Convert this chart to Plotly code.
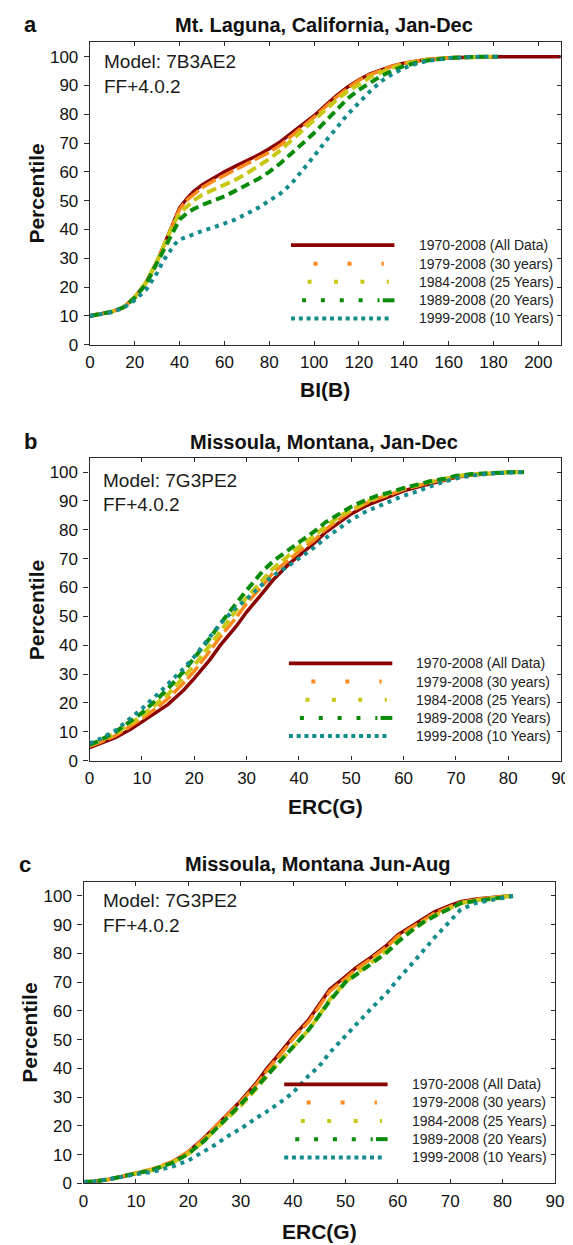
import plotly.graph_objects as go

# ---------------- data ----------------
SERIES_NAMES = ["1970-2008 (All Data)", "1979-2008 (30 years)", "1984-2008 (25 Years)",
                "1989-2008 (20 Years)", "1999-2008 (10 Years)"]

# Panel a: Mt. Laguna, BI(B)
A_X_ALL = [0, 5, 10, 15, 20, 25, 30, 33, 36, 38, 40, 43, 46, 50, 55, 60, 65, 70, 75, 80, 85, 90, 95, 100,
           105, 110, 115, 120, 125, 130, 135, 140, 145, 150, 160, 170, 180, 190, 200, 210]
A_Y_ALL = [10, 10.6, 11.5, 13, 16.5, 21.5, 29, 34.5, 40, 43.5, 47.5, 50.5, 53, 55.5, 57.8, 60, 62, 63.8, 65.8,
           68, 70.5, 73.5, 76.5, 79.5, 83, 86.5, 89.5, 92, 94, 95.5, 96.8, 97.7, 98.4, 99, 99.6, 99.9, 100, 100,
           100, 100]
A_X_SUB = [0, 5, 10, 15, 20, 25, 30, 33, 36, 38, 40, 43, 46, 50, 55, 60, 65, 70, 75, 80, 85, 90, 95, 100,
           105, 110, 115, 120, 125, 130, 135, 140, 145, 150, 160, 170, 182]
A_Y_30 = [10, 10.6, 11.5, 13, 16.5, 21.5, 29, 34.5, 40, 43.5, 47, 50, 52, 54.5, 56.8, 58.8, 60.8, 62.7, 64.7,
          66.8, 69.3, 72.5, 75.8, 79, 82.5, 86, 89, 91.8, 93.8, 95.4, 96.7, 97.7, 98.4, 99, 99.6, 99.9, 100]
A_Y_25 = [10, 10.6, 11.5, 13, 16.5, 21.5, 29, 34.5, 39.5, 43, 45.5, 48, 50, 52, 53.7, 55.3, 57.3, 59.5, 62,
          64.5, 67.5, 71, 74.5, 78, 81.5, 85, 88, 90.5, 92.8, 94.6, 96.2, 97.4, 98.2, 98.9, 99.6, 99.9, 100]
A_Y_20 = [10, 10.6, 11.5, 13, 16.3, 21, 28.5, 33.5, 38, 41, 43.5, 45.5, 47, 48.5, 50, 51.5, 53.5, 55.5, 57.5,
          60, 63, 66.5, 70, 73.5, 77.5, 81.5, 85.5, 88.5, 91, 93.3, 95.2, 96.7, 97.8, 98.6, 99.5, 99.9, 100]
A_Y_10 = [10, 10.5, 11.3, 12.8, 15.5, 19, 25, 29.5, 33, 35, 36.5, 37.5, 38.5, 39.5, 40.7, 42, 43.5, 45.5,
          47.5, 50, 52.5, 56, 60.5, 65.5, 70.5, 75.5, 80, 84, 88, 91.5, 94, 96, 97.4, 98.4, 99.5, 99.9, 100]

# Panel b: Missoula Jan-Dec, ERC(G)
B_X = [0, 2, 5, 8, 10, 13, 15, 18, 20, 23, 25, 28, 30, 33, 35, 38, 40, 43, 45, 48, 50, 53, 55, 58, 60, 63,
       65, 68, 70, 73, 76, 80, 83]
B_Y_ALL = [4.5, 5.8, 8, 11, 13.5, 17, 19.5, 24.5, 28.5, 35, 40, 46.5, 51.5, 58, 62.5, 68, 71, 75.5, 79, 83,
           85.5, 88.5, 90, 92, 93.5, 95, 96, 97.2, 98.2, 99, 99.5, 99.9, 100]
B_Y_30 = [5, 6.3, 8.7, 12, 14.5, 18.5, 21.5, 27, 31, 38, 43, 49.5, 54.5, 60.5, 65, 69.5, 72.5, 76.5, 80, 84,
          86.5, 89.3, 90.8, 92.6, 94, 95.4, 96.4, 97.5, 98.5, 99.2, 99.6, 99.9, 100]
B_Y_25 = [5.3, 6.8, 9.5, 13, 15.5, 20, 23, 29, 33, 40, 45, 52, 56.5, 62.5, 66.5, 71, 74, 78, 81, 85, 87,
          89.8, 91.2, 93, 94.3, 95.6, 96.6, 97.7, 98.6, 99.2, 99.6, 99.9, 100]
B_Y_20 = [5.5, 7, 10, 14, 16.5, 21.5, 25, 31, 35.5, 42.5, 47.5, 54.5, 59, 65.5, 69, 73, 75.5, 79.5, 82.5,
          86, 88, 90.5, 91.8, 93.3, 94.5, 95.8, 96.8, 97.8, 98.7, 99.3, 99.7, 99.9, 100]
B_Y_10 = [6, 7.5, 10.5, 15, 18, 23, 26.5, 32, 36, 43, 47.5, 53, 56, 61, 64, 67.5, 70, 74, 77, 81, 83.5,
          86.5, 88, 90, 91.8, 93.5, 95, 96.8, 97.8, 98.8, 99.4, 99.8, 100]

# Panel c: Missoula Jun-Aug, ERC(G)
C_X = [0, 2, 5, 8, 10, 13, 15, 17, 20, 23, 25, 28, 30, 33, 35, 38, 40, 43, 45, 47, 50, 52, 55, 58, 60, 63,
       65, 67, 70, 72, 75, 78, 80, 82]
C_Y_ALL = [0.5, 0.7, 1.5, 2.8, 3.5, 4.7, 6, 7.5, 11, 15.8, 19.5, 25, 28.7, 35, 40, 46.5, 51, 57, 62.5, 67.5,
           72, 75, 78.8, 83, 86.5, 90, 92.5, 94.5, 96.7, 98, 99, 99.6, 99.8, 100]
C_Y_30 = [0.5, 0.7, 1.5, 2.8, 3.6, 5, 6.3, 7.7, 11, 15.5, 19.5, 25, 28.3, 34.5, 39.3, 45.8, 50.3, 56.3, 61.8,
          66.8, 71.3, 74.5, 78.3, 82.5, 86, 89.5, 92, 94, 96.3, 97.7, 98.8, 99.5, 99.8, 100]
C_Y_25 = [0.5, 0.7, 1.5, 2.8, 3.5, 4.6, 5.8, 7.2, 10.3, 14.8, 18.5, 23.5, 27, 33, 37.5, 43.5, 47.5, 53.5,
          58.5, 64, 70, 73, 77, 81.2, 84.5, 88.5, 91, 93.2, 95.8, 97.5, 98.5, 99.3, 99.7, 100]
C_Y_20 = [0.5, 0.7, 1.5, 2.8, 3.5, 4.6, 5.8, 7.2, 10.3, 14.8, 18.5, 24, 27.5, 33.5, 37.5, 43.5, 47.5, 53.5,
          58.5, 63.5, 70, 72.5, 76.5, 80.5, 84, 88.5, 91, 93, 95.5, 97.5, 98.3, 99, 99.6, 100]
C_Y_10 = [0.5, 0.7, 1.5, 2.6, 3.2, 4, 4.8, 5.9, 8, 11, 13.3, 17, 19, 22.8, 25, 28.8, 31.6, 37.5, 40.8,
          45.5, 51.5, 55.3, 61, 66.5, 71, 77, 81.5, 85.5, 91.3, 95.3, 97.6, 98.7, 99.4, 100]

PANEL_TITLES = ["Mt. Laguna, California, Jan-Dec", "Missoula, Montana, Jan-Dec", "Missoula, Montana Jun-Aug"]
PANEL_LETTERS = ["a", "b", "c"]
X_TITLES = ["BI(B)", "ERC(G)", "ERC(G)"]
MODELS = ["Model: 7B3AE2", "Model: 7G3PE2", "Model: 7G3PE2"]
VERSION = "FF+4.0.2"
X_MAX = [210, 90, 90]
X_DTICK = [20, 10, 10]

PANEL_DATA = [
    [(A_X_ALL, A_Y_ALL), (A_X_SUB, A_Y_30), (A_X_SUB, A_Y_25), (A_X_SUB, A_Y_20), (A_X_SUB, A_Y_10)],
    [(B_X, B_Y_ALL), (B_X, B_Y_30), (B_X, B_Y_25), (B_X, B_Y_20), (B_X, B_Y_10)],
    [(C_X, C_Y_ALL), (C_X, C_Y_30), (C_X, C_Y_25), (C_X, C_Y_20), (C_X, C_Y_10)],
]

# ---------------- styles ----------------
W, H = 573, 1245
COLORS = ["#8B0000", "#FF8A1C", "#C8C814", "#0A8C0A", "#148C8C"]
DASHES = ["solid", "16px,4px", "10px,5px", "9px,5px", "4px,5px"]
WIDTHS = [3.5, 3.5, 4, 4, 4]
FONT = "Liberation Sans, Arial, sans-serif"
AXC = "#2a2a2a"

# pixel layout per panel: frame (left, top, right, bottom)
FRAMES = [(78.8, 34.5, 561.5, 339.5), (78.5, 453.3, 561.3, 758.7), (72.3, 880.7, 555.5, 1185.0)]
TITLE_POS = [(319, 17.3), (319, 437.3), (313, 863.3)]
LETTER_POS = [(18, 16.7), (18, 437), (12, 863)]
MODEL_POS = [(91, 54, 79), (90, 476.7, 501), (90.2, 899.3, 925.3)]
YTITLE_POS = [(23.7, 187), (23.7, 607), (17.5, 1033)]
XTITLE_POS = [(320, 385), (320, 805), (314, 1233)]
LEG_LINE_X = [285, 282.8, 278]
LEG_TEXT_X = [414, 411.4, 407]
LEG_ROWS = [(239, 257.7, 276, 294.7, 313), (660.7, 679, 697.3, 715.7, 734),
            (1085, 1103.3, 1122, 1140.3, 1158.7)]


def px(x):
    return x / W


def py(y):
    return 1 - y / H


fig = go.Figure()
annotations = []
shapes = []

for i in range(3):
    n = i + 1
    xa = "x" if n == 1 else f"x{n}"
    ya = "y" if n == 1 else f"y{n}"
    for k, (xs, ys) in enumerate(PANEL_DATA[i]):
        fig.add_trace(go.Scatter(
            x=xs, y=ys, mode="lines", name=SERIES_NAMES[k], xaxis=xa, yaxis=ya,
            line=dict(color=COLORS[k], width=WIDTHS[k], dash=DASHES[k]),
            showlegend=False, hoverinfo="skip"))
    # empty trace on right-side overlay axis (inside ticks)
    fig.add_trace(go.Scatter(x=[], y=[], xaxis=xa, yaxis=f"y{n + 3}", showlegend=False,
                             hoverinfo="skip"))

    l, t, r, b = FRAMES[i]
    xkey = "xaxis" if n == 1 else f"xaxis{n}"
    ykey = "yaxis" if n == 1 else f"yaxis{n}"
    fig.update_layout(**{
        xkey: dict(domain=[px(l), px(r)], anchor=ya, range=[0, X_MAX[i]], dtick=X_DTICK[i], tick0=0,
                   ticks="inside", ticklen=4, tickwidth=1.2, tickcolor=AXC, showline=True,
                   linecolor=AXC, linewidth=1.3, mirror="ticks", showgrid=False, zeroline=False,
                   ticklabelstandoff=2,
                   tickfont=dict(family=FONT, size=17, color="#111")),
        ykey: dict(domain=[py(b), py(t)], anchor=xa, range=[0, 105], dtick=10, tick0=0,
                   ticks="outside", ticklen=5, tickwidth=1.2, tickcolor=AXC, showline=True,
                   linecolor=AXC, linewidth=1.3, mirror=True, showgrid=False, zeroline=False,
                   ticklabelstandoff=2,
                   tickfont=dict(family=FONT, size=17, color="#111")),
        f"yaxis{n + 3}": dict(overlaying=ya, anchor=xa, side="right", range=[0, 105], dtick=10, tick0=0,
                              ticks="inside", ticklen=4, tickwidth=1.2, tickcolor=AXC, showline=False,
                              showticklabels=False, showgrid=False, zeroline=False),
    })

    # texts
    tx, ty = TITLE_POS[i]
    annotations.append(dict(x=px(tx), y=py(ty), xref="paper", yref="paper", text=f"<b>{PANEL_TITLES[i]}</b>",
                            showarrow=False, xanchor="center", yanchor="middle",
                            font=dict(family=FONT, size=20, color="#111")))
    lx, ly = LETTER_POS[i]
    annotations.append(dict(x=px(lx), y=py(ly), xref="paper", yref="paper", text=f"<b>{PANEL_LETTERS[i]}</b>",
                            showarrow=False, xanchor="center", yanchor="middle",
                            font=dict(family=FONT, size=22, color="#111")))
    mx, my1, my2 = MODEL_POS[i]
    annotations.append(dict(x=px(mx), y=py(my1), xref="paper", yref="paper", text=MODELS[i],
                            showarrow=False, xanchor="left", yanchor="middle",
                            font=dict(family=FONT, size=19, color="#1a1a1a")))
    annotations.append(dict(x=px(mx), y=py(my2), xref="paper", yref="paper", text=VERSION,
                            showarrow=False, xanchor="left", yanchor="middle",
                            font=dict(family=FONT, size=19, color="#1a1a1a")))
    yx, yy = YTITLE_POS[i]
    annotations.append(dict(x=px(yx), y=py(yy), xref="paper", yref="paper", text="<b>Percentile</b>",
                            showarrow=False, xanchor="center", yanchor="middle", textangle=-90,
                            font=dict(family=FONT, size=21, color="#111")))
    xx, xy = XTITLE_POS[i]
    annotations.append(dict(x=px(xx), y=py(xy), xref="paper", yref="paper", text=f"<b>{X_TITLES[i]}</b>",
                            showarrow=False, xanchor="center", yanchor="middle",
                            font=dict(family=FONT, size=21, color="#111")))

    # legend (drawn manually to mimic long sample lines)
    L = LEG_LINE_X[i]
    rows = LEG_ROWS[i]
    segs = [
        [(0, 106, "solid", 3.8)],
        [(23, 95, "4px,30px", 4)],
        [(17, 100.3, "4px,22.4px", 4)],
        [(11.3, 90.7, "4px,14.85px", 4), (94, 106, "solid", 4)],
        [(0, 103, "4px,3.8px", 4)],
    ]
    for k in range(5):
        for (s, e, d, w) in segs[k]:
            shapes.append(dict(type="line", xref="paper", yref="paper", x0=px(L + s), x1=px(L + e),
                               y0=py(rows[k]), y1=py(rows[k]),
                               line=dict(color=COLORS[k], width=w, dash=d)))
        annotations.append(dict(x=px(LEG_TEXT_X[i]), y=py(rows[k]), xref="paper", yref="paper",
                                text=SERIES_NAMES[k], showarrow=False, xanchor="left", yanchor="middle",
                                font=dict(family=FONT, size=14, color="#222")))

fig.update_layout(width=W, height=H, margin=dict(l=0, r=0, t=0, b=0), showlegend=False,
                  paper_bgcolor="white", plot_bgcolor="white", annotations=annotations, shapes=shapes)

fig.write_html("out.html")
